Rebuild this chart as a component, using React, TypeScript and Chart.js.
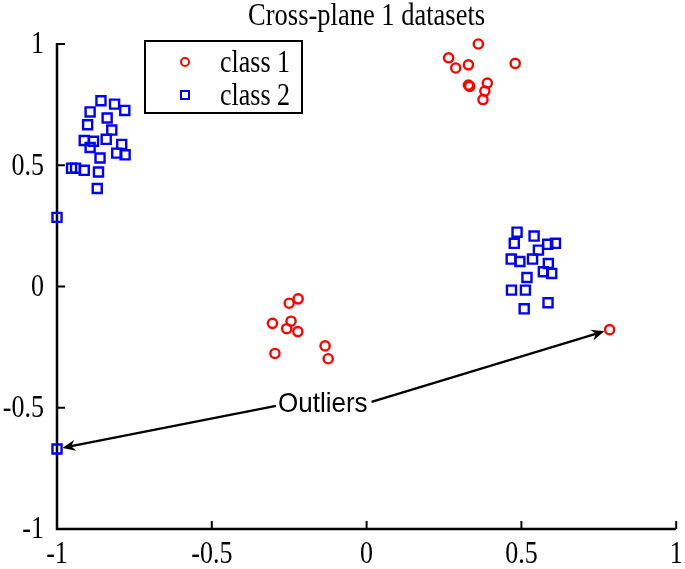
import React, { useEffect, useRef } from "react";
import { Chart, registerables } from "chart.js";

Chart.register(...registerables);

const chartTitle = "Cross-plane 1 datasets";
const seriesNames = ["class 1", "class 2"];
const xTicks = [-1, -0.5, 0, 0.5, 1];
const yTicks = [-1, -0.5, 0, 0.5, 1];

const class1X = [0.361, 0.265, 0.288, 0.329, 0.48, 0.329, 0.333, 0.39, 0.382, 0.376,
  -0.221, -0.25, -0.304, -0.244, -0.258, -0.222, -0.134, -0.124, -0.296, 0.785];
const class1Y = [1.0, 0.943, 0.901, 0.914, 0.92, 0.831, 0.825, 0.839, 0.806, 0.771,
  -0.051, -0.069, -0.152, -0.143, -0.174, -0.186, -0.245, -0.298, -0.276, -0.178];

const class2X = [-0.858, -0.814, -0.781, -0.893, -0.838, -0.901, -0.823, -0.912, -0.882, -0.841,
  -0.893, -0.791, -0.807, -0.78, -0.861, -0.953, -0.94, -0.912, -0.866, -0.87,
  0.486, 0.541, 0.477, 0.555, 0.585, 0.61, 0.467, 0.495, 0.536, 0.587,
  0.571, 0.598, 0.518, 0.468, 0.513, 0.586, 0.509, -1.0, -1.0];
const class2Y = [0.766, 0.752, 0.726, 0.72, 0.695, 0.667, 0.645, 0.602, 0.599, 0.607,
  0.573, 0.586, 0.55, 0.543, 0.53, 0.488, 0.488, 0.479, 0.472, 0.404,
  0.224, 0.208, 0.178, 0.15, 0.174, 0.178, 0.113, 0.103, 0.113, 0.095,
  0.061, 0.054, 0.037, -0.015, -0.015, -0.067, -0.092, 0.285, -0.67];

const annotationText = "Outliers";
const annotationX = -0.1415;
const annotationY = -0.488;
const outlierTargets = [
  { x: -1.0, y: -0.67 },
  { x: 0.785, y: -0.178 },
];

const SERIF = "'Liberation Serif', 'Times New Roman', serif";
const SANS = "'Liberation Sans', Arial, sans-serif";
const STRETCH = 1.22;

function drawText(ctx: CanvasRenderingContext2D, text: string, x: number, y: number, font: string, align: CanvasTextAlign, sy: number) {
  ctx.save();
  ctx.translate(x, y);
  ctx.scale(1, sy);
  ctx.font = font;
  ctx.textAlign = align;
  ctx.textBaseline = "middle";
  ctx.fillStyle = "#000";
  ctx.fillText(text, 0, 0);
  ctx.restore();
}

function drawArrow(ctx: CanvasRenderingContext2D, x0: number, y0: number, x1: number, y1: number) {
  const dx = x1 - x0, dy = y1 - y0;
  const len = Math.hypot(dx, dy);
  const ux = dx / len, uy = dy / len;
  const px = -uy, py = ux;
  const headLen = 13, headW = 5.5, notch = 4;
  ctx.save();
  ctx.strokeStyle = "#000";
  ctx.fillStyle = "#000";
  ctx.lineWidth = 2.2;
  ctx.beginPath();
  ctx.moveTo(x0, y0);
  ctx.lineTo(x1 - ux * (headLen - notch), y1 - uy * (headLen - notch));
  ctx.stroke();
  ctx.beginPath();
  ctx.moveTo(x1, y1);
  ctx.lineTo(x1 - ux * headLen + px * headW, y1 - uy * headLen + py * headW);
  ctx.lineTo(x1 - ux * (headLen - notch), y1 - uy * (headLen - notch));
  ctx.lineTo(x1 - ux * headLen - px * headW, y1 - uy * headLen - py * headW);
  ctx.closePath();
  ctx.fill();
  ctx.restore();
}

const fmt = (v: number) => String(v);

const decorPlugin = {
  id: "decor",
  beforeDatasetsDraw(chart: any) {
    const { ctx, chartArea, scales } = chart;
    const xs = scales.x, ys = scales.y;
    ctx.save();
    ctx.strokeStyle = "#000";
    ctx.lineWidth = 2.5;
    ctx.beginPath();
    ctx.moveTo(chartArea.left, chartArea.top - 1);
    ctx.lineTo(chartArea.left, chartArea.bottom);
    ctx.lineTo(chartArea.right, chartArea.bottom);
    ctx.stroke();
    ctx.lineWidth = 2;
    const tickFont = `26px ${SERIF}`;
    xs.ticks.forEach((t: any) => {
      const p = xs.getPixelForValue(t.value);
      ctx.beginPath();
      ctx.moveTo(p, chartArea.bottom);
      ctx.lineTo(p, chartArea.bottom - 8);
      ctx.stroke();
      drawText(ctx, fmt(t.value), p, chartArea.bottom + 26, tickFont, "center", STRETCH);
    });
    ys.ticks.forEach((t: any) => {
      const p = ys.getPixelForValue(t.value);
      ctx.beginPath();
      ctx.moveTo(chartArea.left, p);
      ctx.lineTo(chartArea.left + 8, p);
      ctx.stroke();
      drawText(ctx, fmt(t.value), chartArea.left - 13, p + 1, tickFont, "right", STRETCH);
    });
    ctx.restore();
  },
  afterDraw(chart: any) {
    const { ctx, chartArea, scales } = chart;
    const xs = scales.x, ys = scales.y;
    ctx.save();
    // title
    drawText(ctx, chartTitle, (chartArea.left + chartArea.right) / 2, 17, `26.5px ${SERIF}`, "center", STRETCH);

    // legend
    const lx = 145, ly = 41, lw = 157, lh = 72;
    ctx.fillStyle = "#fff";
    ctx.fillRect(lx, ly, lw, lh);
    ctx.strokeStyle = "#000";
    ctx.lineWidth = 2;
    ctx.strokeRect(lx, ly, lw, lh);
    const rows = [ly + 21, ly + 54];
    chart.data.datasets.forEach((ds: any, i: number) => {
      const cy = rows[i];
      ctx.save();
      ctx.strokeStyle = ds.borderColor;
      ctx.lineWidth = 2;
      ctx.beginPath();
      if (ds.pointStyle === "rect") {
        ctx.rect(185 - 4, cy - 4, 8, 8);
      } else {
        ctx.arc(185, cy, 4, 0, Math.PI * 2);
      }
      ctx.stroke();
      ctx.restore();
      drawText(ctx, seriesNames[i], 220, cy + 2, `26px ${SERIF}`, "left", STRETCH);
    });

    // annotation
    const tx = xs.getPixelForValue(annotationX);
    const ty = ys.getPixelForValue(annotationY);
    const sansFont = `26px ${SANS}`;
    drawText(ctx, annotationText, tx, ty, sansFont, "center", 1.05);
    ctx.font = sansFont;
    const tw = ctx.measureText(annotationText).width;
    const starts = [
      { x: tx - tw / 2 - 2, y: ty + 1 },
      { x: tx + tw / 2 + 4, y: ty - 3 },
    ];
    outlierTargets.forEach((t, i) => {
      const px = xs.getPixelForValue(t.x);
      const py = ys.getPixelForValue(t.y);
      const s = starts[i];
      const d = Math.hypot(px - s.x, py - s.y);
      const off = 5.5;
      const ex = px - ((px - s.x) / d) * off;
      const ey = py - ((py - s.y) / d) * off;
      drawArrow(ctx, s.x, s.y, ex, ey);
    });
    ctx.restore();
  },
};

export default function App() {
  const ref = useRef<HTMLCanvasElement | null>(null);
  useEffect(() => {
    if (!ref.current) return;
    const chart = new Chart(ref.current, {
      type: "scatter",
      data: {
        datasets: [
          {
            label: seriesNames[0],
            data: class1X.map((x, i) => ({ x, y: class1Y[i] })),
            pointStyle: "circle",
            pointRadius: 4.6,
            borderWidth: 2.4,
            borderColor: "#ff0000",
            backgroundColor: "rgba(0,0,0,0)",
            clip: false,
          } as any,
          {
            label: seriesNames[1],
            data: class2X.map((x, i) => ({ x, y: class2Y[i] })),
            pointStyle: "rect",
            pointRadius: 6.4,
            borderWidth: 2.4,
            borderColor: "#0000ff",
            backgroundColor: "rgba(0,0,0,0)",
            clip: false,
          } as any,
        ],
      },
      options: {
        responsive: false,
        animation: false,
        layout: { padding: { top: 44, right: 7, left: 0, bottom: 0 } },
        plugins: { legend: { display: false }, title: { display: false }, tooltip: { enabled: false } },
        scales: {
          x: {
            type: "linear",
            min: -1,
            max: 1,
            afterBuildTicks: (s: any) => { s.ticks = xTicks.map((v) => ({ value: v })); },
            grid: { display: false, drawTicks: false },
            border: { display: false },
            ticks: { display: false },
            afterFit: (s: any) => { s.height = 40; s.paddingLeft = 0; s.paddingRight = 0; },
          },
          y: {
            type: "linear",
            min: -1,
            max: 1,
            afterBuildTicks: (s: any) => { s.ticks = yTicks.map((v) => ({ value: v })); },
            grid: { display: false, drawTicks: false },
            border: { display: false },
            ticks: { display: false },
            afterFit: (s: any) => { s.width = 57; s.paddingTop = 0; s.paddingBottom = 0; },
          },
        },
      },
      plugins: [decorPlugin],
    });
    return () => chart.destroy();
  }, []);
  return (
    <div style={{ position: "absolute", left: 0, top: 0, width: 685, height: 569, background: "#fff" }}>
      <canvas ref={ref} width={685} height={569} style={{ display: "block" }} />
    </div>
  );
}
